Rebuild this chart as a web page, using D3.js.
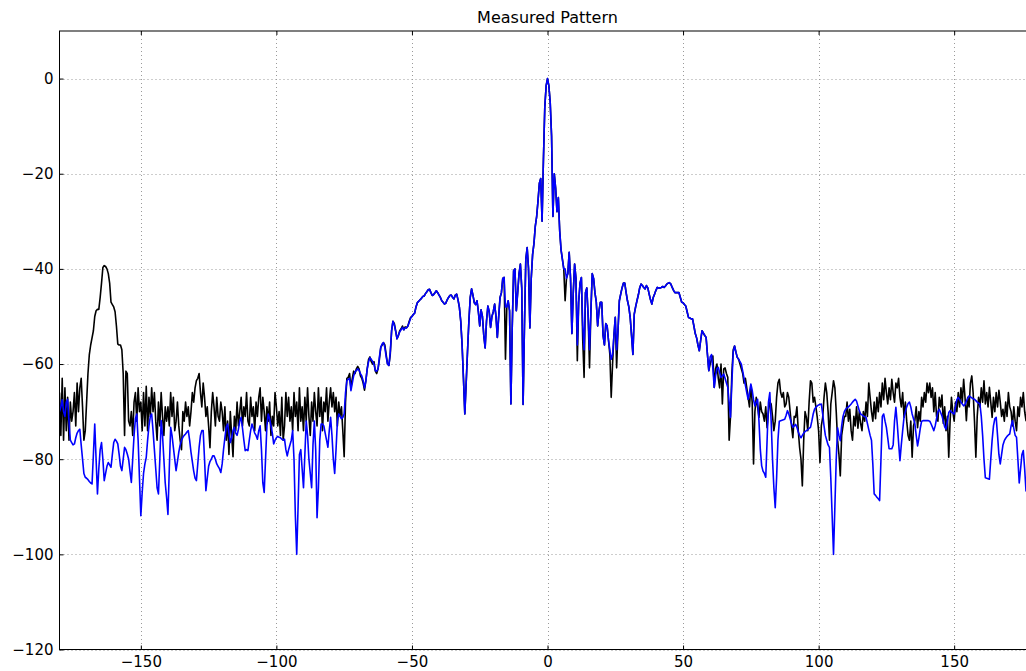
<!DOCTYPE html>
<html>
<head>
<meta charset="utf-8">
<script src="https://cdn.jsdelivr.net/npm/d3@7"></script>
<style>
  html, body { margin: 0; padding: 0; background: #fff; overflow: hidden; }
  svg { display: block; font-family: "DejaVu Sans", sans-serif; }
</style>
</head>
<body>
<svg id="chart" width="1026" height="671"></svg>
<script>
const titleText = 'Measured Pattern';
const startAngle = -180;   // first sample, degrees
const angleStep = 0.5;     // sample spacing, degrees
const xTicks = [-150, -100, -50, 0, 50, 100, 150];
const yTicks = [-120, -100, -80, -60, -40, -20, 0];

// black trace, one row per 10 degrees (20 samples), last value at +180
const blackTrace = [
  -66, -75, -63, -76, -65, -74, -67, -76, -68, -72, -70, -66, -73, -64, -70, -65, -63, -69, -76, -74,   // -180
  -68, -62, -58, -56, -54.5, -53, -50, -48.8, -48.5, -48.5, -46, -43, -39.7, -39.3, -39.5, -40, -41, -43, -47, -47.5, // -170
  -48, -49, -52, -55.8, -56, -56, -57, -62, -75, -61.5, -62, -72, -73, -70, -75, -68, -66, -72, -65, -70, // -160
  -68, -74, -66, -73, -64.7, -74, -67, -71, -65, -70, -66, -72, -76, -68, -73, -66, -71, -75, -69, -72, // -150
  -69, -73, -66, -71, -67, -74, -72, -68, -73, -76, -78, -70, -72, -68, -71, -69, -73, -70, -66, -68,   // -140
  -65, -63.5, -63, -62, -66, -69, -64, -67, -71, -69, -73, -77.6, -70, -66, -69, -73, -67, -71, -72, -68, // -130
  -70, -74, -69, -76, -72, -79, -70, -75, -79.5, -71, -74, -68, -73, -70, -67, -73, -69, -71, -66, -72, // -120
  -73, -67, -71, -69, -74, -68, -71, -67, -65, -72, -67, -70, -74, -69, -72, -68, -75, -71, -73, -66,   // -110
  -69, -73, -70, -75, -67, -76, -73, -66, -71, -67, -72, -69, -74, -66, -71, -68, -74, -65, -72, -69,   // -100
  -74, -67, -72, -65, -71, -75, -68, -72, -66, -70, -73, -65, -71, -67, -74, -68, -70, -65, -72, -68,   // -90
  -65, -69, -66, -70, -67, -73, -68, -71, -69, -74, -79.5, -68, -63, -62.8, -62, -65, -63, -61.5, -62, -61, // -80
  -60.5, -61, -62.5, -63, -64, -65.5, -63.5, -61, -59, -58.5, -59.5, -60, -59.5, -61.5, -62, -61, -59, -56.5, -56, -55.5, // -70
  -56, -58, -60, -60.3, -58, -53, -51, -51.5, -53, -54.7, -54, -53, -52.6, -52, -52.8, -52.2, -52.4, -52, -51, -50.2, // -60
  -50, -49.6, -49.3, -48, -47.1, -46.8, -46.5, -46.2, -45.8, -45.7, -45.2, -44.8, -44.4, -44.3, -45, -45.6, -45.4, -45, -44.6, -45, // -50
  -45.5, -46, -46.7, -47, -47.4, -47.2, -46.5, -46, -45.6, -45.5, -46, -46.3, -45.5, -45.3, -46.5, -48.1, -51, -56, -63, -70.5, // -40
  -64, -57.3, -51, -46, -44.2, -45.5, -47.1, -47.5, -46.7, -49, -52, -48.6, -50, -54, -56.6, -51, -47.8, -49, -52.3, -50, // -30
  -49, -47.4, -50, -54.4, -50, -46, -45, -42, -41.8, -59, -48, -46.7, -48.8, -68.4, -52, -40.4, -40, -48.8, -45, -41, // -20
  -39, -44, -68.5, -52, -38, -35.5, -40, -52.4, -42, -37, -34.7, -31, -29, -25.7, -22, -21, -30, -17, -6, -1.5, // -10
  0, -1.5, -5, -12, -29, -20, -23, -28, -25, -32, -36, -38, -40, -46.7, -42, -41, -36.5, -42, -53.6, -45, // 0
  -39, -42, -59.3, -47, -43, -41.8, -55, -62.8, -45, -44, -50, -60.8, -49, -41, -42, -45, -47, -52, -48.8, -47, // 10
  -47, -54, -56, -51.5, -52, -55, -58, -67, -60, -54, -50.2, -60.8, -53, -46.7, -45.3, -44, -43, -43, -45, -46.7, // 20
  -48, -50.2, -54, -58, -49.5, -48, -46.7, -45.5, -44, -43.2, -43.5, -43.9, -44.2, -43.5, -44, -45.3, -46.5, -47.4, -46, -45.3, // 30
  -44.5, -43.9, -44, -44, -43.9, -43.7, -43.9, -43.6, -43.2, -43, -42.9, -43.2, -43.9, -44.5, -45, -45, -45, -45, -46, -47, // 40
  -47.1, -47.5, -47.8, -49, -50.2, -50.3, -50.5, -50.5, -52, -53.6, -54.5, -56, -57.2, -55, -53, -53.5, -54, -54.4, -58, -61.4, // 50
  -60, -59, -58.3, -64.9, -61, -60, -63, -65, -60, -68.4, -61, -60.8, -62, -62.8, -76, -71, -62, -57, -56.2, -57.5, // 60
  -58.6, -59, -60, -61, -62, -64, -63, -65, -67, -69, -64.5, -68, -81, -70, -67, -69, -71.2, -68, -70, -70.5, // 70
  -72, -69, -73.4, -70, -68, -68.4, -71, -74, -72, -67, -64, -63.2, -66, -67, -66, -69, -68.4, -66, -67, -70, // 80
  -73, -75.5, -71, -71.2, -69, -74, -77.6, -80, -85.6, -76, -70, -71.2, -74, -68, -63.5, -64, -68, -67, -69, -71.2, // 90
  -74, -80.7, -73, -71.2, -67, -64, -66, -70, -76, -68.4, -66, -63.5, -65, -70, -76, -79, -83.5, -75, -73, -71, // 100
  -71, -68, -72, -69.5, -74, -76, -71, -73, -69, -73.5, -70, -72.5, -74, -70, -72, -68, -71, -64, -67, -70, // 110
  -72, -68, -71.5, -67, -70, -66, -69, -64, -67.5, -63, -66, -68.4, -65, -67.5, -63.2, -66, -68, -64, -65, -63, // 120
  -67, -69, -66, -71.2, -68, -72, -75, -76, -72, -79.6, -73, -71.9, -69, -73.4, -70, -72, -67, -69, -66, -68, // 130
  -64, -66, -64, -67, -65, -70, -66, -71, -72, -67, -69, -66.5, -72.5, -69, -74, -71, -79.6, -72, -67, -70, // 140
  -72, -68, -70, -66, -69, -65, -68, -63.2, -67, -71.9, -67, -69, -64, -62.5, -66, -72, -79.6, -71, -67, -69, // 150
  -65, -68, -63.5, -68.4, -66, -69, -64.9, -68, -71.2, -67, -70, -66, -69, -65.5, -68, -71, -69.5, -72, -68, -71, // 160
  -66, -69, -70, -73, -69, -72, -74, -69, -71, -67, -69, -66, -70, -71.9, -68, -72, -69, -73, -70, -67, // 170
  -70
];

// blue trace, same sampling
const blueTrace = [
  -70, -69, -67.5, -70, -71, -68, -67.4, -72, -76, -76.5, -77, -76.8, -75.5, -74.5, -74, -73.7, -77, -80, -83, -83.8, // -180
  -84, -84.3, -84.7, -85, -85.2, -79, -72.6, -80, -87.3, -82, -78, -76.5, -80, -84.5, -83, -81.5, -80.7, -81.2, -81.7, -79, // -170
  -76.5, -75.8, -76.2, -76.8, -79, -81.5, -82.4, -80, -77.5, -78, -78.9, -80, -82.5, -84.9, -80, -75, -71.5, -70.5, -76, -84, // -160
  -91.9, -87, -83, -81, -79.6, -76, -73, -71, -70.5, -74, -78, -82, -86, -87.3, -80, -71.9, -75, -80, -85, -88, // -150
  -91.6, -82, -73.3, -75, -77.5, -80, -82.4, -80.5, -78.5, -77, -76, -75.4, -75, -74.7, -74.3, -74, -76, -78.5, -80.5, -82.5, // -140
  -84, -84.5, -81, -77.5, -75, -74, -74, -80, -86.6, -84, -81.5, -80.5, -80, -79.3, -79.3, -80, -81, -81.5, -82, -82.8, // -130
  -81, -78, -75.5, -73.3, -72.6, -74.5, -76.5, -75.5, -74, -73.3, -74.5, -75, -73.7, -72, -71.2, -73.5, -76, -78.2, -78, -78.2, // -120
  -76, -74, -72.6, -73.5, -74.5, -75, -75.8, -74, -73, -78, -85, -87, -80, -73, -70.5, -71.5, -73, -74.5, -76.8, -76, // -110
  -75.5, -75.2, -75.4, -75.5, -75.8, -76, -75.8, -78, -79.3, -78, -77, -76, -74, -80, -92, -100, -90, -79, -78, -82, // -100
  -86, -79, -72, -75, -80, -83, -86, -77, -72, -78, -92.3, -86, -76, -72.6, -72.6, -73, -74.5, -76, -77.5, -74, // -90
  -71.2, -75, -80, -83, -78, -72, -70.5, -71, -71.5, -71.2, -70.5, -66, -63.5, -63.2, -63, -65.6, -64, -62.5, -61.6, -61.4, // -80
  -61, -61.3, -62, -62.5, -63.5, -65, -63.6, -61, -59.5, -58.7, -59, -59.5, -60, -61.4, -61.5, -61, -58.5, -56.5, -55.8, -55.5, // -70
  -56.5, -58.5, -60, -60.3, -57.5, -53, -51, -51.8, -53.2, -54.7, -54, -53.2, -52.8, -52.3, -52.8, -52.4, -52.4, -52, -51.2, -50.4, // -60
  -50, -49.6, -49.3, -48, -47.1, -46.8, -46.5, -46.2, -45.8, -45.7, -45.2, -44.8, -44.4, -44.3, -45, -45.6, -45.4, -45, -44.6, -45, // -50
  -45.5, -46, -46.7, -47, -47.4, -47.2, -46.5, -46, -45.6, -45.5, -46, -46.3, -45.5, -45.3, -46.5, -48.1, -51, -56, -63, -70.5, // -40
  -64, -57.3, -51, -46, -44.2, -45.5, -47.1, -47.5, -46.7, -49, -52, -48.6, -50, -54, -56.6, -51, -47.8, -49, -52.3, -50, // -30
  -49, -47.4, -50, -54.4, -50, -46, -45, -42, -41.8, -48, -48, -46.7, -48.8, -68.4, -52, -40.4, -40, -48.8, -45, -41, // -20
  -39, -44, -68.5, -52, -38, -35.5, -40, -52.4, -42, -37, -34.7, -31, -29, -25.7, -22, -21, -30, -17, -6, -1.5, // -10
  0, -1.5, -5, -12, -29, -20, -23, -28, -25, -32, -36, -38, -40, -40, -42, -41, -36.5, -42, -53.6, -45, // 0
  -39, -42, -56, -47, -43, -41.8, -52, -57, -45, -44, -50, -57, -49, -41, -42, -45, -47, -52, -48.8, -47, // 10
  -47, -54, -56, -51.5, -52, -55, -57, -59, -58, -54, -50.2, -57, -53, -46.7, -45.3, -44, -43, -43, -45, -46.7, // 20
  -48, -50.2, -54, -58, -49.5, -48, -46.7, -45.5, -44, -43.2, -43.5, -43.9, -44.2, -43.5, -44, -45.3, -46.5, -47.4, -46, -45.3, // 30
  -44.5, -43.9, -44, -44, -43.9, -43.7, -43.9, -43.6, -43.2, -43, -42.9, -43.2, -43.9, -44.5, -45, -45, -45, -45, -46, -47, // 40
  -47.1, -47.5, -47.8, -49, -50.2, -50.3, -50.5, -50.5, -52, -53.6, -54.5, -56, -57.2, -55, -53, -53.5, -54, -54.4, -58, -61.4, // 50
  -58.5, -58, -61, -64.9, -62.5, -61, -60.7, -61.8, -62.8, -62.5, -62.1, -63, -64, -64.9, -68, -71.2, -64, -57.5, -56.2, -57.5, // 60
  -58.6, -59, -59.5, -60, -61.5, -63, -64.5, -66, -67.4, -66, -64.2, -65.5, -67.5, -68.8, -68, -67.4, -72, -78, -81.4, -82.5, // 70
  -83, -83.8, -76, -68, -66, -72, -80, -86, -90.2, -84, -76, -72, -71.9, -71.8, -71.7, -71.6, -70.8, -69.8, -70.5, -71.5, // 80
  -72.5, -73.3, -73, -72.7, -73.3, -74.3, -75, -75.5, -75, -74.5, -74.2, -74, -73.8, -73.5, -73.3, -72, -70.5, -69.5, -69.1, -68.8, // 90
  -68.6, -68.5, -68.4, -70.5, -73, -75, -76, -77, -77.5, -84, -92, -100, -90, -80, -73.4, -75, -76.1, -73, -71, -70, // 100
  -69.5, -69.2, -69, -68.7, -68.4, -68, -67.7, -67.4, -67.8, -68.8, -69.8, -70.5, -70.7, -70.9, -71.1, -71.2, -72.5, -73.8, -75, -76, // 110
  -81, -87.3, -87.6, -88, -88.3, -88.7, -80, -71, -70.5, -72, -73.3, -75.5, -77.8, -77.8, -77.8, -77, -72, -69.1, -72.5, -76.5, // 120
  -80.3, -77, -74, -71.2, -70, -69, -68.3, -68, -69, -70.5, -71.5, -72.5, -75, -77.2, -75.5, -73.5, -72, -71.9, -71.9, -71.9, // 130
  -71.9, -71.9, -72, -72.6, -73.3, -74, -73, -71.5, -70, -69.5, -70.2, -70.9, -72, -73.2, -73.7, -72, -70.2, -69.8, -70.1, -70.3, // 140
  -70.5, -69, -67.5, -67, -67.5, -68, -68.4, -68.8, -68.5, -67.8, -67.2, -66.7, -66.9, -67.1, -67.3, -67.4, -67.7, -68, -68.2, -68.4, // 150
  -71, -75, -80, -83.9, -84, -84.1, -84.2, -80, -76, -73, -71.5, -71.2, -75, -79, -81, -79, -77, -76.1, -75.6, -75.2, // 160
  -74.9, -74.7, -73, -71.9, -73.5, -75, -75.4, -80, -85, -82, -79, -78.2, -82, -86.7, -84, -80, -77, -79, -82, -80, // 170
  -78
];

const svg = d3.select('#chart');

// plot box (the right edge falls just outside the window, as in the original)
const plot = {left: 59.5, right: 1035.5, top: 31, bottom: 649.5};

const x = d3.scaleLinear().domain([-180, 180]).range([plot.left, plot.right]);
const y = d3.scaleLinear().domain([-120, 10]).range([plot.bottom, plot.top]);

const fmt = d => d < 0 ? '\u2212' + Math.abs(d) : String(d);

svg.append('defs').append('clipPath').attr('id', 'clip')
  .append('rect')
  .attr('x', plot.left).attr('y', plot.top)
  .attr('width', plot.right - plot.left).attr('height', plot.bottom - plot.top);

// dotted grid
const grid = svg.append('g').attr('class', 'grid')
  .attr('stroke', '#9a9a9a')
  .attr('stroke-width', 1)
  .attr('stroke-dasharray', '1,3');

grid.selectAll('.gx').data(xTicks).enter().append('line')
  .attr('x1', d => Math.round(x(d)) + 0.5).attr('x2', d => Math.round(x(d)) + 0.5)
  .attr('y1', plot.top).attr('y2', plot.bottom);

grid.selectAll('.gy').data(yTicks).enter().append('line')
  .attr('y1', d => Math.round(y(d)) + 0.5).attr('y2', d => Math.round(y(d)) + 0.5)
  .attr('x1', plot.left).attr('x2', plot.right);

// traces
const line = d3.line()
  .x((d, i) => x(startAngle + i * angleStep))
  .y(d => y(d));

const traces = svg.append('g').attr('clip-path', 'url(#clip)');

traces.append('path')
  .datum(blackTrace)
  .attr('fill', 'none')
  .attr('stroke', '#000')
  .attr('stroke-width', 1.6)
  .attr('stroke-linejoin', 'round')
  .attr('d', line);

traces.append('path')
  .datum(blueTrace)
  .attr('fill', 'none')
  .attr('stroke', '#0000ff')
  .attr('stroke-width', 1.6)
  .attr('stroke-linejoin', 'round')
  .attr('d', line);

// axes, ticks pointing inward like matplotlib
const xAxis = d3.axisBottom(x).tickValues(xTicks).tickFormat(fmt).tickSizeInner(-4).tickSizeOuter(0).tickPadding(7);
const xTop = d3.axisTop(x).tickValues(xTicks).tickFormat('').tickSizeInner(-4).tickSizeOuter(0);
const yAxis = d3.axisLeft(y).tickValues(yTicks).tickFormat(fmt).tickSizeInner(-4).tickSizeOuter(0).tickPadding(6);

svg.append('g')
  .attr('transform', 'translate(0,' + plot.bottom + ')')
  .style('font-family', '"DejaVu Sans", sans-serif')
  .style('font-size', '15px')
  .call(xAxis);

svg.append('g')
  .attr('transform', 'translate(0,' + plot.top + ')')
  .call(xTop);

svg.append('g')
  .attr('transform', 'translate(' + plot.left + ',0)')
  .style('font-family', '"DejaVu Sans", sans-serif')
  .style('font-size', '15px')
  .call(yAxis);

svg.selectAll('.domain').remove();
svg.selectAll('.tick line').attr('stroke', '#000');
svg.selectAll('.tick text').attr('fill', '#000');

// frame
svg.append('rect')
  .attr('x', plot.left).attr('y', plot.top)
  .attr('width', plot.right - plot.left).attr('height', plot.bottom - plot.top)
  .attr('fill', 'none')
  .attr('stroke', '#000')
  .attr('stroke-width', 1);

svg.append('text')
  .attr('x', (plot.left + plot.right) / 2)
  .attr('y', 23)
  .attr('text-anchor', 'middle')
  .style('font-size', '16px')
  .text(titleText);

if (blackTrace.length !== 721 || blueTrace.length !== 721) {
  console.warn('trace length', blackTrace.length, blueTrace.length);
}
</script>
</body>
</html>
